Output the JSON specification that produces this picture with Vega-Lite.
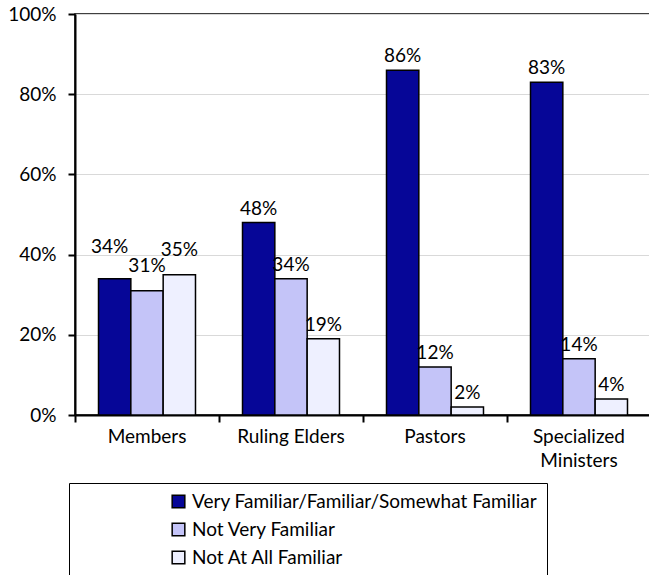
{
  "$schema": "https://vega.github.io/schema/vega-lite/v6.json",
  "autosize": "none",
  "width": 576,
  "height": 401,
  "padding": {"left": 75, "top": 14, "right": 0, "bottom": 160},
  "background": "white",
  "config": {
    "font": "Lato",
    "view": {"stroke": "black", "strokeWidth": 1.5},
    "axis": {"labelFont": "Lato", "labelFontSize": 19, "labelColor": "black"}
  },
  "data": {
    "values": [
      {"group": "Members", "series": "Very Familiar/Familiar/Somewhat Familiar", "value": 0.34},
      {"group": "Members", "series": "Not Very Familiar", "value": 0.31},
      {"group": "Members", "series": "Not At All Familiar", "value": 0.35},
      {"group": "Ruling Elders", "series": "Very Familiar/Familiar/Somewhat Familiar", "value": 0.48},
      {"group": "Ruling Elders", "series": "Not Very Familiar", "value": 0.34},
      {"group": "Ruling Elders", "series": "Not At All Familiar", "value": 0.19},
      {"group": "Pastors", "series": "Very Familiar/Familiar/Somewhat Familiar", "value": 0.86},
      {"group": "Pastors", "series": "Not Very Familiar", "value": 0.12},
      {"group": "Pastors", "series": "Not At All Familiar", "value": 0.02},
      {"group": "Specialized Ministers", "series": "Very Familiar/Familiar/Somewhat Familiar", "value": 0.83},
      {"group": "Specialized Ministers", "series": "Not Very Familiar", "value": 0.14},
      {"group": "Specialized Ministers", "series": "Not At All Familiar", "value": 0.04}
    ]
  },
  "encoding": {
    "x": {
      "field": "group", "type": "nominal", "sort": null,
      "scale": {"paddingInner": 0, "paddingOuter": 0},
      "axis": {
        "title": null, "labelAngle": 0, "bandPosition": 0,
        "domainColor": "black", "domainWidth": 2,
        "tickColor": "black", "tickWidth": 2, "tickSize": 7,
        "labelPadding": 5, "labelLineHeight": 24,
        "labelExpr": "datum.label == 'Specialized Ministers' ? ['Specialized', 'Ministers'] : datum.label"
      }
    },
    "xOffset": {
      "field": "series", "type": "nominal", "sort": null,
      "scale": {"paddingInner": 0, "paddingOuter": 0.727}
    },
    "y": {
      "field": "value", "type": "quantitative",
      "scale": {"domain": [0, 1], "nice": false},
      "axis": {
        "title": null, "values": [0, 0.2, 0.4, 0.6, 0.8, 1], "format": ".0%",
        "domainColor": "black", "domainWidth": 2,
        "tickColor": "black", "tickWidth": 2, "tickSize": 7, "labelPadding": 12,
        "gridColor": "#d9d9d9", "gridWidth": 1.2
      }
    }
  },
  "layer": [
    {
      "mark": {"type": "bar", "stroke": "black", "strokeWidth": 1.5},
      "encoding": {
        "color": {
          "field": "series", "type": "nominal", "sort": null,
          "scale": {
            "domain": ["Very Familiar/Familiar/Somewhat Familiar", "Not Very Familiar", "Not At All Familiar"],
            "range": ["#060697", "#c4c4f8", "#eef0ff"]
          },
          "legend": {
            "orient": "none", "legendX": -6, "legendY": 469,
            "title": " ", "titleOrient": "left", "titleFontSize": 1, "titlePadding": 91,
            "padding": 9, "strokeColor": "black", "fillColor": "white",
            "symbolType": "square", "symbolSize": 160, "symbolStrokeColor": "black", "symbolStrokeWidth": 1.5,
            "labelFont": "Lato", "labelFontSize": 19, "labelColor": "black", "labelOffset": 4,
            "rowPadding": 8, "labelLimit": 2000,
            "labelExpr": "datum.label + '\u00a0\u00a0\u00a0\u00a0\u00a0\u00a0\u00a0\u00a0\u00a0\u00a0\u00a0\u00a0\u00a0\u00a0\u00a0\u00a0\u00a0\u00a0\u00a0\u00a0\u00a0\u00a0\u00a0\u00a0\u00a0\u00a0\u00a0\u00a0\u00a0\u00a0\u00a0\u00a0\u00a0\u00a0\u00a0\u00a0\u00a0\u00a0\u00a0\u00a0\u00a0\u00a0\u00a0\u00a0\u00a0\u00a0\u00a0\u00a0\u00a0\u00a0\u00a0\u00a0\u00a0\u00a0\u00a0\u00a0\u00a0\u00a0\u00a0\u00a0\u00a0\u00a0\u00a0\u00a0\u00a0'"
          }
        }
      }
    },
    {
      "transform": [{"filter": "datum.group != 'Members'"}],
      "mark": {"type": "text", "baseline": "alphabetic", "dy": -8, "fontSize": 19, "font": "Lato", "color": "black"},
      "encoding": {"text": {"field": "value", "type": "quantitative", "format": ".0%"}}
    },
    {
      "transform": [{"filter": "datum.group == 'Members' && datum.value != 0.34"}],
      "mark": {"type": "text", "baseline": "alphabetic", "dy": -19, "fontSize": 19, "font": "Lato", "color": "black"},
      "encoding": {"text": {"field": "value", "type": "quantitative", "format": ".0%"}}
    },
    {
      "transform": [{"filter": "datum.group == 'Members' && datum.value == 0.34"}],
      "mark": {"type": "text", "baseline": "alphabetic", "dy": -26, "dx": -5, "fontSize": 19, "font": "Lato", "color": "black"},
      "encoding": {"text": {"field": "value", "type": "quantitative", "format": ".0%"}}
    }
  ]
}
